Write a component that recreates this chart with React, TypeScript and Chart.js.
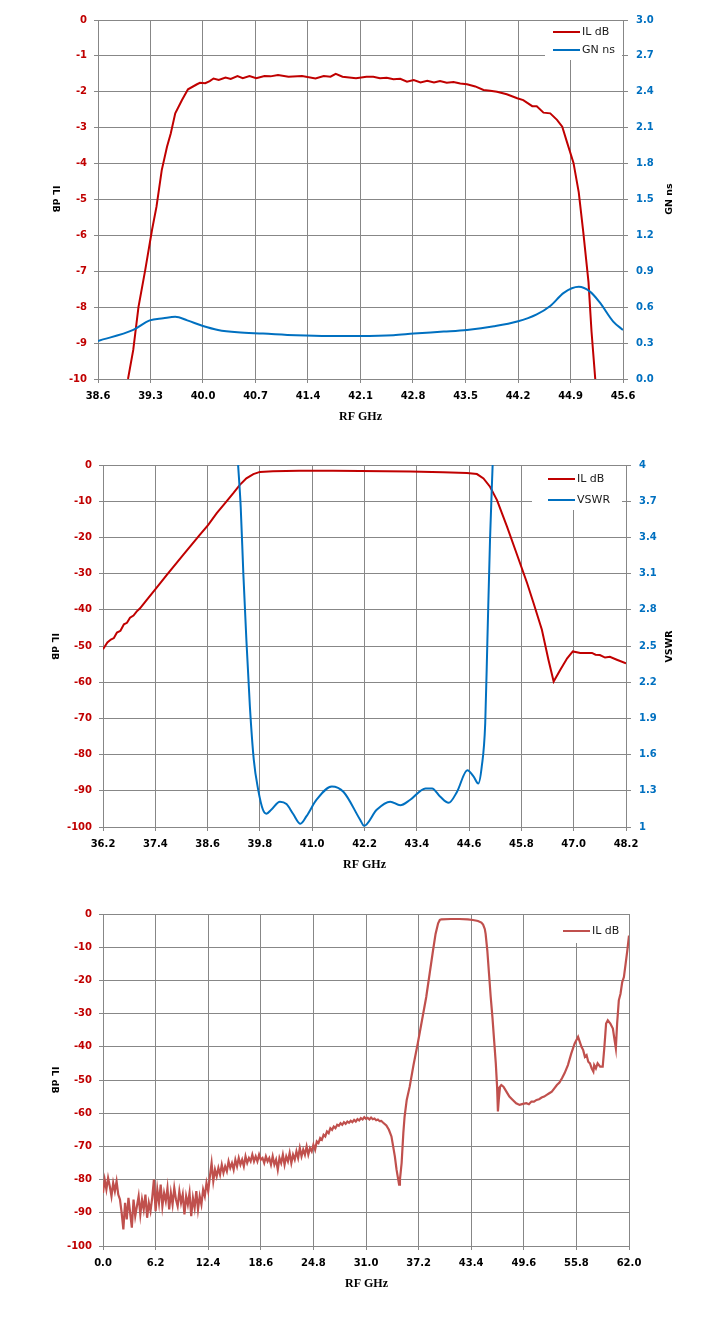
import React, { useEffect, useRef } from 'react';
import { Chart, registerables } from 'chart.js';

Chart.register(...registerables);

// ---------- chart 1: passband IL + group delay ----------
const x1Ticks = [38.6, 39.3, 40.0, 40.7, 41.4, 42.1, 42.8, 43.5, 44.2, 44.9, 45.6];
const il1Ticks = [-10, -9, -8, -7, -6, -5, -4, -3, -2, -1, 0];
const gn1Ticks = [0, 0.3, 0.6, 0.9, 1.2, 1.5, 1.8, 2.1, 2.4, 2.7, 3.0];

const il1Freq = [
  39.0, 39.07, 39.14, 39.23, 39.32, 39.38, 39.45, 39.52, 39.57, 39.63, 39.72, 39.8,
  39.92, 39.96, 40.03, 40.09, 40.14, 40.21, 40.3, 40.37, 40.46, 40.53, 40.62, 40.71,
  40.82, 40.9, 41.0, 41.14, 41.32, 41.5, 41.61, 41.7, 41.77, 41.86, 42.04, 42.18,
  42.27, 42.36, 42.45, 42.54, 42.63, 42.72, 42.81, 42.9, 42.99, 43.08, 43.16, 43.25,
  43.34, 43.43, 43.52, 43.63, 43.74, 43.83, 43.92, 44.05, 44.19, 44.27, 44.39, 44.45,
  44.54, 44.63, 44.72, 44.79, 44.85, 44.94, 45.01, 45.07, 45.14, 45.18, 45.23,
];
const il1Vals = [
  -10, -9.19, -7.99, -6.96, -5.85, -5.2, -4.18, -3.53, -3.16, -2.6, -2.23, -1.93,
  -1.79, -1.75, -1.76, -1.7, -1.63, -1.67, -1.6, -1.64, -1.56, -1.62, -1.56, -1.62,
  -1.56, -1.57, -1.53, -1.58, -1.56, -1.63, -1.56, -1.58, -1.5, -1.58, -1.62, -1.58,
  -1.58, -1.62, -1.61, -1.65, -1.64, -1.72, -1.67, -1.74, -1.69, -1.74, -1.7, -1.75,
  -1.73, -1.77, -1.79, -1.85, -1.95, -1.97, -2.0, -2.07, -2.18, -2.23, -2.4, -2.4,
  -2.58, -2.6, -2.78, -2.97, -3.38, -3.98, -4.8, -5.9, -7.3, -8.67, -10,
];
const gn1Freq = [
  38.6, 39.07, 39.29, 39.47, 39.63, 39.79, 40.0, 40.2, 40.46, 40.8, 41.24, 41.68, 42.09,
  42.54, 42.81, 43.21, 43.52, 43.88, 44.19, 44.45, 44.63, 44.81, 45.01, 45.16, 45.29, 45.47, 45.6,
];
const gn1Vals = [
  0.318, 0.41, 0.49, 0.507, 0.52, 0.49, 0.443, 0.41, 0.39, 0.38, 0.366, 0.36, 0.36,
  0.366, 0.38, 0.396, 0.41, 0.44, 0.48, 0.54, 0.61, 0.72, 0.77, 0.73, 0.64, 0.48, 0.41,
];

// ---------- chart 2: IL + VSWR ----------
const x2Ticks = [36.2, 37.4, 38.6, 39.8, 41.0, 42.2, 43.4, 44.6, 45.8, 47.0, 48.2];
const il2Ticks = [-100, -90, -80, -70, -60, -50, -40, -30, -20, -10, 0];
const vswrTicks = [1, 1.3, 1.6, 1.9, 2.2, 2.5, 2.8, 3.1, 3.4, 3.7, 4];

const il2Freq = [
  36.2, 36.3, 36.38, 36.45, 36.52, 36.6, 36.68, 36.75, 36.82, 36.9, 36.97, 37.05, 37.2,
  37.39, 37.66, 38.04, 38.42, 38.61,
  38.81, 39.03, 39.19, 39.34, 39.49, 39.65, 39.8, 40.1, 40.7, 41.47, 42.1, 43.25,
  44.0, 44.55, 44.78, 44.93, 45.08, 45.24, 45.47, 45.7, 45.93, 46.08, 46.27, 46.42,
  46.54, 46.69, 46.85, 46.98, 47.15, 47.42, 47.5, 47.6, 47.72, 47.83, 47.99, 48.2,
];
const il2Vals = [
  -50.9, -49.0, -48.2, -47.8, -46.3, -45.8, -44.0, -43.6, -42.2, -41.6, -40.5, -39.6, -37.3,
  -34.5, -30.4, -24.8, -19.3, -16.6,
  -13.3, -10.1, -7.8, -5.5, -3.7, -2.5, -1.9, -1.7, -1.6, -1.6, -1.65, -1.8,
  -2.0, -2.2, -2.5, -3.7, -6, -9.7, -17, -24.8, -32.6, -38.2, -45.5, -53.8,
  -59.8, -56.6, -53.4, -51.5, -51.9, -51.9, -52.4, -52.5, -53.2, -53, -53.8, -54.8,
];
const vswrFreq = [
  39.3, 39.36, 39.42, 39.49, 39.57, 39.66, 39.76, 39.87, 39.95, 40.06, 40.26, 40.41,
  40.56, 40.73, 40.87, 41.1, 41.45, 41.72, 42.1, 42.19, 42.48, 42.79, 43.02, 43.25,
  43.6, 43.75, 43.94, 44.13, 44.32, 44.56, 44.7, 44.81, 44.89, 44.97, 45.02, 45.08, 45.14,
];
const vswrVals = [
  4.0, 3.65, 3.1, 2.55, 2.0, 1.557, 1.31, 1.143, 1.11, 1.143, 1.21, 1.19,
  1.11, 1.027, 1.09, 1.226, 1.336, 1.29, 1.06, 1.01, 1.143, 1.21, 1.18, 1.226,
  1.32, 1.32, 1.25, 1.2, 1.29, 1.47, 1.42, 1.36, 1.5, 1.86, 2.55, 3.38, 4.0,
];

// ---------- chart 3: wideband IL ----------
const x3Ticks = [0, 6.2, 12.4, 18.6, 24.8, 31.0, 37.2, 43.4, 49.6, 55.8, 62.0];
const il3Ticks = [-100, -90, -80, -70, -60, -50, -40, -30, -20, -10, 0];

// noisy floor, sampled every 0.2 GHz from 0 to 33 GHz
const il3NoiseStep = 0.2;
const il3NoiseVals = [
  -84, -80, -83, -79.5, -82, -85, -81, -83.5, -80.5, -84.5,
  -86, -90, -95, -87, -92, -85.5, -90, -94.5, -86, -91,
  -88, -85, -90.5, -86, -89, -84.5, -91.5, -87, -89.5, -85.5,
  -80, -89.5, -83, -87, -81.5, -88, -84, -86.5, -82.5, -89,
  -84, -87.5, -82.5, -86, -88, -83.5, -87, -84.5, -90.5, -85,
  -87.5, -84, -91, -85.5, -88.5, -83.5, -89, -85, -87.5, -83,
  -85, -81, -83.5, -79, -75, -80.5, -77, -79, -76.5, -78.5,
  -75.5, -78, -76, -77.5, -74.5, -76.5, -75, -77, -74, -76,
  -73.5, -75.5, -74, -76, -73, -75, -73.5, -74.5, -72.5, -74.5,
  -73, -74.5, -72.5, -74, -73.5, -75, -73, -74.5, -73.5, -75.5,
  -73, -75.5, -74, -77, -73.5, -75, -72.5, -75.5, -73, -74.5,
  -72, -75, -72.5, -74, -71.5, -73.5, -70.5, -73, -71, -72.5,
  -70, -72.5, -70.5, -71.5, -69.5, -71, -68.5, -69, -67.5, -68,
  -66.5, -67, -65.5, -66, -64.5, -65, -64, -64.5, -63.5, -63.8,
  -63, -63.5, -62.7, -63.2, -62.5, -62.9, -62.3, -62.7, -62, -62.5,
  -61.8, -62.2, -61.5, -61.9, -61.2, -61.7, -61.4, -61.9, -61.3, -61.8,
  -61.6, -62.1, -61.9, -62.4, -62.3, -62.8,
];
// rest of the sweep as [GHz, dB]
const il3Tail: [number, number][] = [
  [33.4, -63.7], [33.7, -65], [34.0, -67], [34.2, -70], [34.4, -73], [34.6, -77],
  [34.8, -80], [34.9, -81.5], [35.0, -80], [35.2, -75], [35.4, -66], [35.55, -61],
  [35.8, -56], [36.15, -52], [36.6, -45.5], [37.1, -39], [37.6, -32], [38.1, -25],
  [38.5, -18], [38.9, -11], [39.2, -6], [39.5, -2.8], [39.7, -1.8], [39.9, -1.6],
  [41.0, -1.5], [42.0, -1.5], [43.0, -1.6], [43.6, -1.8], [44.2, -2.1], [44.6, -2.6],
  [44.8, -3.2], [45.0, -4.5], [45.1, -6], [45.3, -11], [45.5, -18], [45.7, -25],
  [45.9, -31], [46.1, -38], [46.3, -45], [46.45, -52], [46.55, -59.5], [46.65, -56],
  [46.8, -52], [46.95, -51.5], [47.2, -52], [47.55, -53.5], [47.9, -55], [48.3, -56],
  [48.7, -57], [49.1, -57.5], [49.5, -57.2], [49.9, -57], [50.2, -57.3], [50.5, -56.5],
  [50.8, -56.5], [51.1, -56], [51.4, -55.8], [51.7, -55.3], [52.0, -55], [52.3, -54.5],
  [52.6, -54], [52.9, -53.5], [53.2, -52.5], [53.5, -51.5], [53.8, -50.8], [54.1, -49.5],
  [54.4, -48], [54.8, -45.5], [55.2, -42], [55.6, -39], [56.0, -37], [56.2, -38.5],
  [56.4, -40], [56.6, -41], [56.8, -43], [57.0, -42.5], [57.2, -44.5], [57.4, -45],
  [57.6, -46.5], [57.8, -47.5], [57.9, -45.5], [58.1, -46.5], [58.3, -45], [58.6, -46],
  [58.9, -46], [59.1, -40], [59.3, -33], [59.5, -32], [59.8, -33], [60.1, -34.5],
  [60.3, -38], [60.45, -40.5], [60.6, -33], [60.8, -26], [61.0, -24], [61.2, -20.5],
  [61.4, -19], [61.6, -15], [61.8, -11], [62.0, -6.5],
];

// ---------- styling ----------
const RED = '#C00000';
const BLUE = '#0070C0';
const RED3 = '#C0504D';
const GRID = '#878787';
const SANS = '"DejaVu Sans", Verdana, sans-serif';
const tickFont = { family: SANS, size: 10, weight: 'bold' as const };

const zip = (xs: number[], ys: number[]) => xs.map((x, i) => ({ x, y: ys[i] }));
const fmtInt = (v: number) => String(Math.round(v));
const fmt1 = (v: number) => v.toFixed(1);
const fmtTrim = (v: number) => String(+v.toFixed(1));

const fixedTicks = (values: number[]) => (scale: any) => {
  scale.ticks = values.map((value) => ({ value }));
};

function xScale(ticks: number[], height: number) {
  return {
    type: 'linear',
    position: 'bottom',
    min: ticks[0],
    max: ticks[ticks.length - 1],
    afterBuildTicks: fixedTicks(ticks),
    afterFit: (s: any) => { s.height = height; },
    grid: { color: GRID, lineWidth: 1, tickLength: 4 },
    border: { display: false },
    ticks: {
      font: tickFont, color: '#000', padding: 7, maxRotation: 0, autoSkip: false,
      callback: (v: any) => fmt1(Number(v)),
    },
  };
}

function yScale(side: 'left' | 'right', ticks: number[], width: number, color: string, fmt: (v: number) => string) {
  return {
    type: 'linear',
    position: side,
    min: ticks[0],
    max: ticks[ticks.length - 1],
    afterBuildTicks: fixedTicks(ticks),
    afterFit: (s: any) => { s.width = width; },
    grid: { color: GRID, lineWidth: 1, tickLength: side === 'left' ? 4 : 5, drawOnChartArea: side === 'left' },
    border: { display: false },
    ticks: { font: tickFont, color, padding: side === 'left' ? 7 : 8, autoSkip: false, callback: (v: any) => fmt(Number(v)) },
  };
}

interface Deco {
  legend: { text: string; color: string }[];
  box: [number, number, number, number];
  rows: number[];
  lineX: number;
  left: [string, number, number];
  right?: [string, number, number];
  bottom: [string, number, number];
}

// legend box inside the plot and the axis titles (left reads downward, right upward)
function decoPlugin(o: Deco) {
  return {
    id: 'deco',
    beforeDatasetsDraw(chart: any) {
      const ctx = chart.ctx;
      ctx.save();
      ctx.fillStyle = '#fff';
      ctx.fillRect(...o.box);
      o.legend.forEach((item, i) => {
        const y = o.rows[i];
        ctx.strokeStyle = item.color;
        ctx.lineWidth = 2;
        ctx.beginPath();
        ctx.moveTo(o.lineX, y);
        ctx.lineTo(o.lineX + 27, y);
        ctx.stroke();
        ctx.fillStyle = '#1a1a1a';
        ctx.font = `11px ${SANS}`;
        ctx.textAlign = 'left';
        ctx.textBaseline = 'middle';
        ctx.fillText(item.text, o.lineX + 29, y);
      });
      ctx.restore();
    },
    afterDraw(chart: any) {
      const ctx = chart.ctx;
      const rotated = (t: [string, number, number], angle: number) => {
        ctx.save();
        ctx.translate(t[1], t[2]);
        ctx.rotate(angle);
        ctx.fillText(t[0], 0, 0);
        ctx.restore();
      };
      ctx.save();
      ctx.fillStyle = '#000';
      ctx.textAlign = 'center';
      ctx.textBaseline = 'middle';
      ctx.font = `bold 9.5px ${SANS}`;
      rotated(o.left, Math.PI / 2);
      if (o.right) rotated(o.right, -Math.PI / 2);
      ctx.font = 'bold 12px "Liberation Serif", "Times New Roman", serif';
      ctx.fillText(o.bottom[0], o.bottom[1], o.bottom[2]);
      ctx.restore();
    },
  };
}

const lineDefaults = { borderWidth: 2, pointRadius: 0, fill: false };
const baseOptions = {
  responsive: false,
  animation: false,
  events: [],
  plugins: { legend: { display: false }, tooltip: { enabled: false } },
};

function buildChart1(): any {
  return {
    type: 'line',
    data: {
      datasets: [
        { ...lineDefaults, label: 'IL dB', data: zip(il1Freq, il1Vals), yAxisID: 'y', borderColor: RED, tension: 0, order: 2 },
        { ...lineDefaults, label: 'GN ns', data: zip(gn1Freq, gn1Vals), yAxisID: 'y2', borderColor: BLUE, cubicInterpolationMode: 'monotone', order: 1 },
      ],
    },
    options: {
      ...baseOptions,
      layout: { padding: { top: 20, left: 0, right: 0, bottom: 0 } },
      scales: {
        x: xScale(x1Ticks, 61),
        y: yScale('left', il1Ticks, 98, RED, fmtInt),
        y2: yScale('right', gn1Ticks, 95, BLUE, fmt1),
      },
    },
    plugins: [decoPlugin({
      legend: [{ text: 'IL dB', color: RED }, { text: 'GN ns', color: BLUE }],
      box: [545, 21, 77, 39],
      rows: [32, 50],
      lineX: 553,
      left: ['IL dB', 55, 199],
      right: ['GN ns', 670, 199],
      bottom: ['RF GHz', 360.5, 417],
    })],
  };
}

function buildChart2(): any {
  return {
    type: 'line',
    data: {
      datasets: [
        { ...lineDefaults, label: 'IL dB', data: zip(il2Freq, il2Vals), yAxisID: 'y', borderColor: RED, tension: 0, order: 2 },
        { ...lineDefaults, label: 'VSWR', data: zip(vswrFreq, vswrVals), yAxisID: 'y2', borderColor: BLUE, cubicInterpolationMode: 'monotone', order: 1 },
      ],
    },
    options: {
      ...baseOptions,
      layout: { padding: { top: 25, left: 0, right: 0, bottom: 0 } },
      scales: {
        x: xScale(x2Ticks, 63),
        y: yScale('left', il2Ticks, 103, RED, fmtInt),
        y2: yScale('right', vswrTicks, 92, BLUE, fmtTrim),
      },
    },
    plugins: [decoPlugin({
      legend: [{ text: 'IL dB', color: RED }, { text: 'VSWR', color: BLUE }],
      box: [532, 26, 90, 44],
      rows: [39, 60],
      lineX: 548,
      left: ['IL dB', 54, 206.5],
      right: ['VSWR', 670, 206.5],
      bottom: ['RF GHz', 364.5, 425],
    })],
  };
}

function buildChart3(): any {
  const noise = il3NoiseVals.map((y, i) => ({ x: i * il3NoiseStep, y }));
  const tail = il3Tail.map(([x, y]) => ({ x, y }));
  return {
    type: 'line',
    data: {
      datasets: [
        { ...lineDefaults, label: 'IL dB', data: [...noise, ...tail], yAxisID: 'y', borderColor: RED3, borderWidth: 2.2, tension: 0 },
      ],
    },
    options: {
      ...baseOptions,
      layout: { padding: { top: 24, left: 0, right: 89, bottom: 0 } },
      scales: {
        x: xScale(x3Ticks, 86),
        y: yScale('left', il3Ticks, 103, RED, fmtInt),
      },
    },
    plugins: [decoPlugin({
      legend: [{ text: 'IL dB', color: RED3 }],
      box: [556, 25, 72, 28],
      rows: [41],
      lineX: 563,
      left: ['IL dB', 54, 190],
      bottom: ['RF GHz', 366.5, 393.5],
    })],
  };
}

function ChartCanvas({ top, height, build }: { top: number; height: number; build: () => any }) {
  const canvasRef = useRef<HTMLCanvasElement | null>(null);

  useEffect(() => {
    if (!canvasRef.current) return;
    const chart = new Chart(canvasRef.current, build());
    return () => chart.destroy();
  }, [build]);

  return (
    <canvas
      ref={canvasRef}
      width={718}
      height={height}
      style={{ position: 'absolute', left: 0, top, width: 718, height, display: 'block' }}
    />
  );
}

export default function App() {
  return (
    <div style={{ position: 'absolute', left: 0, top: 0, width: 718, height: 1332, background: '#fff' }}>
      <ChartCanvas top={0} height={440} build={buildChart1} />
      <ChartCanvas top={440} height={450} build={buildChart2} />
      <ChartCanvas top={890} height={442} build={buildChart3} />
    </div>
  );
}
